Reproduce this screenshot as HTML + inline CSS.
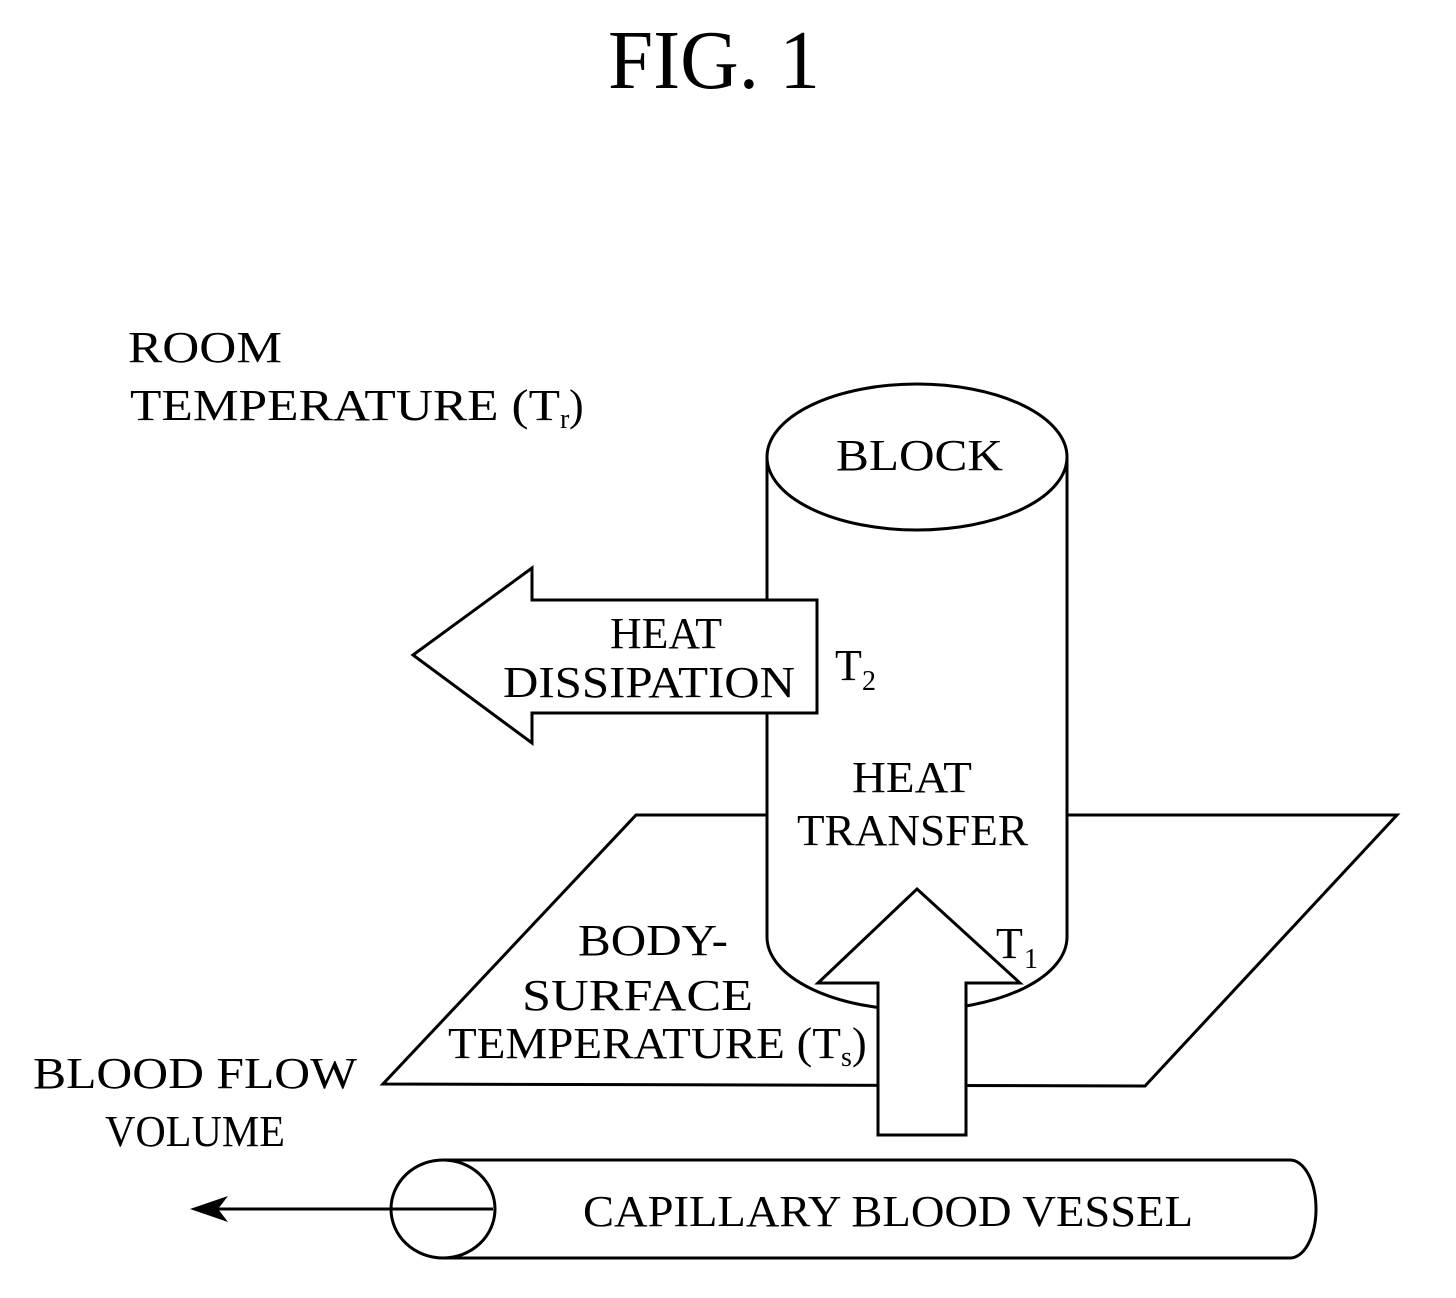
<!DOCTYPE html>
<html><head><meta charset="utf-8"><style>html,body{margin:0;padding:0;background:#fff}svg{display:block}</style></head>
<body>
<svg width="1456" height="1298" viewBox="0 0 1456 1298" xmlns="http://www.w3.org/2000/svg" font-family="Liberation Serif, serif" fill="#000">
<g stroke="#000" stroke-width="3" fill="none" stroke-linejoin="miter">
<!-- parallelogram -->
<polygon points="636,815 1397,815 1145,1086 383,1084" fill="#fff"/>
<!-- cylinder body -->
<path d="M767,457 L767,937 A150,73 0 0 0 1067,937 L1067,457 Z" fill="#fff"/>
<ellipse cx="917" cy="457" rx="150" ry="73" fill="#fff"/>
<!-- heat dissipation arrow -->
<polygon points="413,655 532,568 532,600 817,600 817,713 532,713 532,743" fill="#fff"/>
<!-- up arrow -->
<polygon points="917,889 1020,983 966,983 966,1135 878,1135 878,983 818,983" fill="#fff"/>
<!-- vessel -->
<path d="M443,1160 L1290,1160 A26,49 0 0 1 1290,1258 L443,1258" fill="#fff"/>
<ellipse cx="443" cy="1209" rx="52" ry="49" fill="#fff"/>
<line x1="387" y1="1209" x2="493" y2="1209"/>
<line x1="387" y1="1209" x2="205" y2="1209"/>
</g>
<polygon points="190,1209 228,1196 218,1209 228,1222" fill="#000"/>
<g font-size="44">
<text x="608" y="88" font-size="84" textLength="212" lengthAdjust="spacingAndGlyphs">FIG. 1</text>
<text x="128" y="362" textLength="154" lengthAdjust="spacingAndGlyphs">ROOM</text>
<text x="130" y="420" textLength="430" lengthAdjust="spacingAndGlyphs">TEMPERATURE (T</text>
<text x="560" y="428" font-size="28">r</text><text x="569" y="420">)</text>
<text x="836" y="470" textLength="167" lengthAdjust="spacingAndGlyphs">BLOCK</text>
<text x="610" y="648" textLength="112" lengthAdjust="spacingAndGlyphs">HEAT</text>
<text x="503" y="697" textLength="292" lengthAdjust="spacingAndGlyphs">DISSIPATION</text>
<text x="835" y="680">T</text><text x="862" y="690" font-size="28">2</text>
<text x="852" y="792" textLength="120" lengthAdjust="spacingAndGlyphs">HEAT</text>
<text x="797" y="845" textLength="231" lengthAdjust="spacingAndGlyphs">TRANSFER</text>
<text x="996" y="958">T</text><text x="1024" y="968" font-size="28">1</text>
<text x="578" y="955" textLength="150" lengthAdjust="spacingAndGlyphs">BODY-</text>
<text x="522" y="1010" textLength="231" lengthAdjust="spacingAndGlyphs">SURFACE</text>
<text x="448" y="1058" textLength="393" lengthAdjust="spacingAndGlyphs">TEMPERATURE (T</text>
<text x="841" y="1066" font-size="28">s</text><text x="852" y="1058">)</text>
<text x="33" y="1088" textLength="324" lengthAdjust="spacingAndGlyphs">BLOOD FLOW</text>
<text x="105" y="1146" textLength="180" lengthAdjust="spacingAndGlyphs">VOLUME</text>
<text x="583" y="1226" textLength="610" lengthAdjust="spacingAndGlyphs">CAPILLARY BLOOD VESSEL</text>
</g>
</svg>
</body></html>
